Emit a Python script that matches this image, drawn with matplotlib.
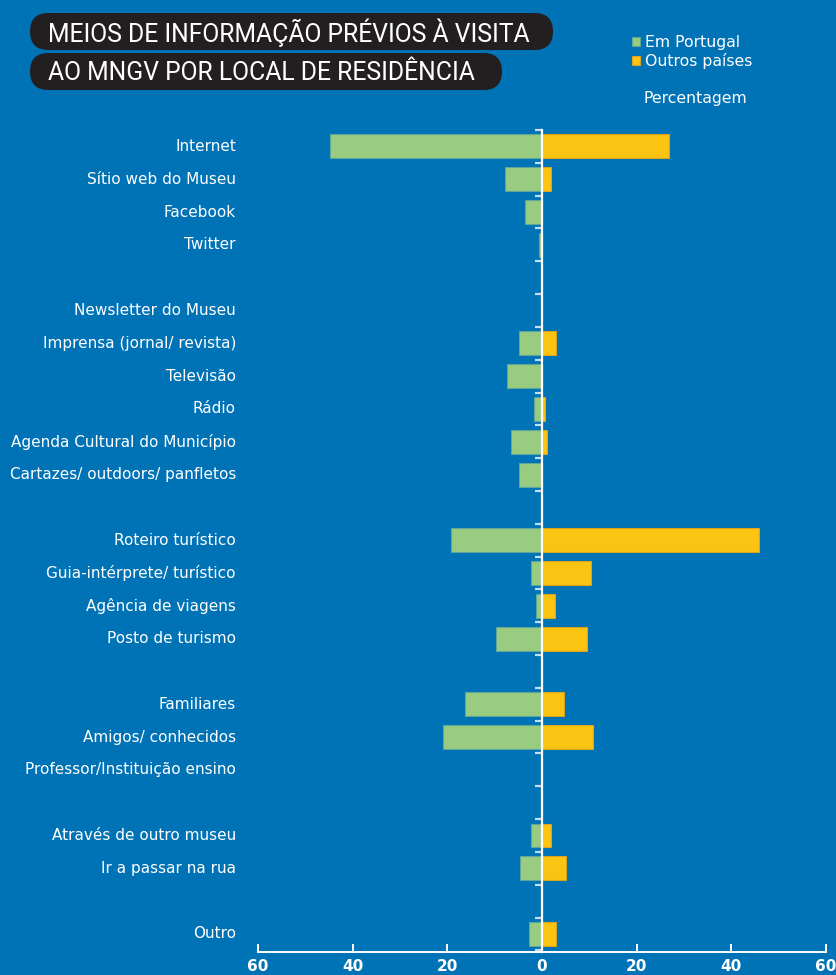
import matplotlib.pyplot as plt
from matplotlib.patches import FancyBboxPatch
from matplotlib.transforms import blended_transform_factory

# Meios de informação por local de residência (percentagem)
categorias = ["Internet", "Sítio web do Museu", "Facebook", "Twitter", "",
              "Newsletter do Museu", "Imprensa (jornal/ revista)", "Televisão", "Rádio",
              "Agenda Cultural do Município", "Cartazes/ outdoors/ panfletos", "",
              "Roteiro turístico", "Guia-intérprete/ turístico", "Agência de viagens",
              "Posto de turismo", "", "Familiares", "Amigos/ conhecidos",
              "Professor/Instituição ensino", "", "Através de outro museu",
              "Ir a passar na rua", "", "Outro"]
em_portugal = [44.8, 7.8, 3.6, 0.6, 0, 0, 4.8, 7.4, 1.7, 6.6, 4.8, 0,
               19.3, 2.3, 1.2, 9.7, 0, 16.2, 20.9, 0, 0, 2.3, 4.6, 0, 2.8]
outros_paises = [26.8, 1.9, 0, 0, 0, 0, 3.0, 0, 0.7, 1.0, 0, 0,
                 45.8, 10.4, 2.7, 9.6, 0, 4.6, 10.8, 0, 0, 1.9, 5.0, 0, 3.0]
ticks_x = [-60, -40, -20, 0, 20, 40, 60]

azul = '#0072B6'
verde = '#99CB80'
amarelo = '#FBC412'
fonte = 'DejaVu Sans'

fig = plt.figure(figsize=(8.37, 9.75), dpi=100, facecolor=azul)

# overlay in pixel coordinates for the title boxes
top = fig.add_axes([0, 0, 1, 1], zorder=3)
top.set_xlim(0, 837)
top.set_ylim(975, 0)
top.axis('off')
top.patch.set_alpha(0)
for (x0, y0, x1, y1), txt in [((30, 13, 553, 50), "MEIOS DE INFORMAÇÃO PRÉVIOS À VISITA"),
                              ((30, 53, 502, 90), "AO MNGV POR LOCAL DE RESIDÊNCIA")]:
    r = (y1 - y0) / 2
    top.add_patch(FancyBboxPatch((x0, y0), x1 - x0, y1 - y0,
                                 boxstyle=f"round,pad=0,rounding_size={r}",
                                 facecolor='#231F20', edgecolor='none'))
    top.text(48, (y0 + y1) / 2 + 1, txt, color='white', fontsize=17.8,
             family='Roboto', ha='left', va='center')
top.text(644, 98, "Percentagem", color='white', fontsize=11.3, family=fonte,
         ha='left', va='center')

ax = fig.add_axes([258 / 837, 1 - 952 / 975, 568 / 837, (952 - 130) / 975])
ax.set_facecolor('none')
y = list(range(len(categorias)))
neg = [-v for v in em_portugal]
b1 = ax.barh(y, neg, height=0.73, color=verde, edgecolor='#5FA79A', linewidth=0.8,
             label="Em Portugal")
b2 = ax.barh(y, outros_paises, height=0.73, color=amarelo, edgecolor='#D9A41E',
             linewidth=0.8, label="Outros países")

ax.set_xlim(-60, 60)
ax.set_ylim(24.55, -0.5)

for s in ['top', 'right']:
    ax.spines[s].set_visible(False)
ax.spines['left'].set_position(('data', 0))
ax.spines['left'].set_color('white')
ax.spines['left'].set_linewidth(1.6)
ax.spines['left'].set_zorder(4)
ax.spines['bottom'].set_color('white')
ax.spines['bottom'].set_linewidth(1.4)

ax.set_yticks([])
ax.set_yticks([k - 0.5 for k in range(len(categorias) + 1)], minor=True)
ax.tick_params(axis='y', which='minor', direction='out', length=5, width=1.6,
               color='#C9DDEE', labelleft=False)

ax.set_xticks(ticks_x)
ax.set_xticklabels([str(abs(t)) for t in ticks_x], fontweight='bold',
                   fontsize=11, color='white', family='DejaVu Sans')
ax.tick_params(axis='x', direction='in', length=6, width=1.4, color='white', pad=5)

trans = blended_transform_factory(ax.transAxes, ax.transData)
for k, nome in enumerate(categorias):
    if nome:
        ax.text(-22 / 568, k, nome, transform=trans, ha='right', va='center',
                color='white', fontsize=11, family=fonte)

fig.legend(handles=[b1, b2], loc='upper left', bbox_to_anchor=(632 / 837, 1 - 35 / 975),
           frameon=False, handlelength=0.5, handleheight=0.55,
           handletextpad=0.3, labelspacing=0.2, borderpad=0, borderaxespad=0,
           labelcolor='white', prop={'family': fonte, 'size': 11.3})

fig.savefig('out.png', dpi=100, facecolor=azul)
